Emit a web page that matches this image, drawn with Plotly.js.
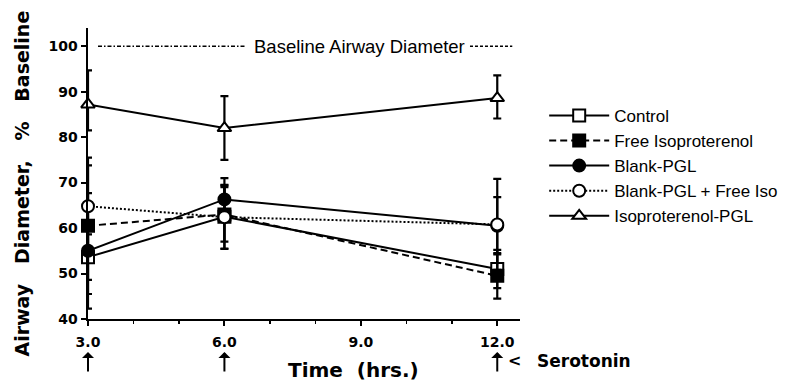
<!DOCTYPE html>
<html>
<head>
<meta charset="utf-8">
<script src="https://cdn.plot.ly/plotly-3.0.1.min.js"></script>
<style>html,body{margin:0;padding:0;background:#fff;}#chart{width:805px;height:382px;}</style>
</head>
<body>
<div id="chart"></div>
<script>
// Data
const timeHrs = [3, 6, 12];
const seriesNames = ['Control', 'Free Isoproterenol', 'Blank-PGL', 'Blank-PGL + Free Iso', 'Isoproterenol-PGL'];
const control = [53.6, 62.5, 51.0];
const controlErr = [5.0, 7.0, 4.2];
const freeIso = [60.5, 63.0, 49.5];
const freeIsoErr = [15.0, 6.0, 5.0];
const blankPGL = [55.0, 66.3, 60.5];
const blankPGLErr = [12.7, 4.7, 6.3];
const blankFreeIso = [64.8, 62.4, 60.8];
const blankFreeIsoErr = [9.0, 7.0, 10.0];
const isoPGL = [87.2, 82.0, 88.6];
const isoPGLErrPlus = [7.5, 7.0, 5.0];
const isoPGLErrMinus = [5.7, 7.0, 4.5];
const baselineValue = 100;
const baselineLeftX = [3.22, 6.45];
const baselineRightX = [11.4, 12.33];
const serotoninTimes = [3, 6, 12];
const xTickVals = [3, 6, 9, 12];
const xTickText = ['3.0', '6.0', '9.0', '12.0'];
const yTickVals = [40, 50, 60, 70, 80, 90, 100];

const FONT = 'Liberation Sans, Arial, sans-serif';
const BOLDFONT = 'DejaVu Sans, Verdana, sans-serif';
const ERR_W = 2.2, CAP = 4;

function series(name, y, err, dash, symbol, fill, errMinus) {
  const e = {type: 'data', array: err, visible: true, color: '#000', thickness: ERR_W, width: CAP};
  if (errMinus) { e.symmetric = false; e.arrayminus = errMinus; }
  return {
    x: timeHrs, y: y, name: name, type: 'scatter', mode: 'lines+markers',
    cliponaxis: false,
    line: {color: '#000', width: 2, dash: dash},
    marker: {symbol: symbol, size: 12, color: fill, line: {color: '#000', width: 2}},
    error_y: e
  };
}

const traces = [
  series(seriesNames[0], control, controlErr, 'solid', 'square', '#fff'),
  series(seriesNames[1], freeIso, freeIsoErr, '7px,4px', 'square', '#000'),
  series(seriesNames[2], blankPGL, blankPGLErr, 'solid', 'circle', '#000'),
  series(seriesNames[3], blankFreeIso, blankFreeIsoErr, '2px,2px', 'circle', '#fff'),
  series(seriesNames[4], isoPGL, isoPGLErrPlus, 'solid', 'triangle-up', '#fff', isoPGLErrMinus),
  {x: baselineLeftX, y: baselineLeftX.map(() => baselineValue), mode: 'lines', showlegend: false,
   line: {color: '#000', width: 1.5, dash: '4px,2px,1.5px,2px'}, hoverinfo: 'skip'},
  {x: baselineRightX, y: baselineRightX.map(() => baselineValue), mode: 'lines', showlegend: false,
   line: {color: '#000', width: 1.5, dash: '3px,2px'}, hoverinfo: 'skip'}
];

const annotations = [
  {x: 8.97, y: baselineValue, xref: 'x', yref: 'y', text: 'Baseline Airway Diameter', showarrow: false,
   font: {family: FONT, size: 18.5, color: '#000'}},
  {x: 8.83, y: -0.175, xref: 'x', yref: 'paper', yanchor: 'middle', text: 'Time  (hrs.)', showarrow: false,
   font: {family: BOLDFONT, size: 20, weight: 'bold', color: '#000'}},
  {x: -0.155, y: 0.4656, xref: 'paper', yref: 'paper', xanchor: 'center', yanchor: 'middle', textangle: -90,
   text: 'Airway   Diameter,   %   Baseline', showarrow: false,
   font: {family: BOLDFONT, size: 19, weight: 'bold', color: '#000'}},
  {x: 12, y: -0.144, xref: 'x', yref: 'paper', yanchor: 'middle', text: '<', showarrow: false,
   xanchor: 'left', xshift: 9, font: {family: BOLDFONT, size: 16, weight: 'bold', color: '#000'}},
  {x: 12, y: -0.144, xref: 'x', yref: 'paper', yanchor: 'middle', text: 'Serotonin', showarrow: false,
   xanchor: 'left', xshift: 38, font: {family: BOLDFONT, size: 17, weight: 'bold', color: '#000'}}
];
serotoninTimes.forEach(t => annotations.push({
  x: t, y: -0.113, xref: 'x', yref: 'paper', text: '', showarrow: true,
  ax: 0, ay: 21, arrowhead: 1, arrowsize: 1, arrowwidth: 2, arrowcolor: '#000'
}));

const layout = {
  width: 805, height: 382,
  margin: {l: 88, r: 285, t: 28, b: 63},
  paper_bgcolor: '#fff', plot_bgcolor: '#fff',
  font: {family: FONT, color: '#000'},
  showlegend: true,
  legend: {x: 1.056, y: 0.76, xanchor: 'left', yanchor: 'top', itemwidth: 60,
           font: {family: FONT, size: 17, color: '#000'}, tracegroupgap: 0, bgcolor: 'rgba(0,0,0,0)'},
  xaxis: {
    range: [3, 12.5], showgrid: false, zeroline: false, showline: true, linecolor: '#000', linewidth: 2,
    tickmode: 'array', tickvals: xTickVals, ticktext: xTickText, ticks: 'outside', ticklen: 5, tickwidth: 2,
    tickcolor: '#000', tickfont: {family: BOLDFONT, size: 14, weight: 'bold'}, ticklabelstandoff: 4,
    minor: {dtick: 1, ticks: 'outside', ticklen: 3, tickwidth: 1.5, tickcolor: '#000'}
  },
  yaxis: {
    range: [40, 104], showgrid: false, zeroline: false, showline: true, linecolor: '#000', linewidth: 2.5,
    tickmode: 'array', tickvals: yTickVals, ticks: 'outside', ticklen: 5, tickwidth: 2, tickcolor: '#000',
    tickfont: {family: BOLDFONT, size: 14, weight: 'bold'}
  },
  annotations: annotations
};

Plotly.newPlot('chart', traces, layout, {displayModeBar: false, staticPlot: true});
</script>
</body>
</html>
